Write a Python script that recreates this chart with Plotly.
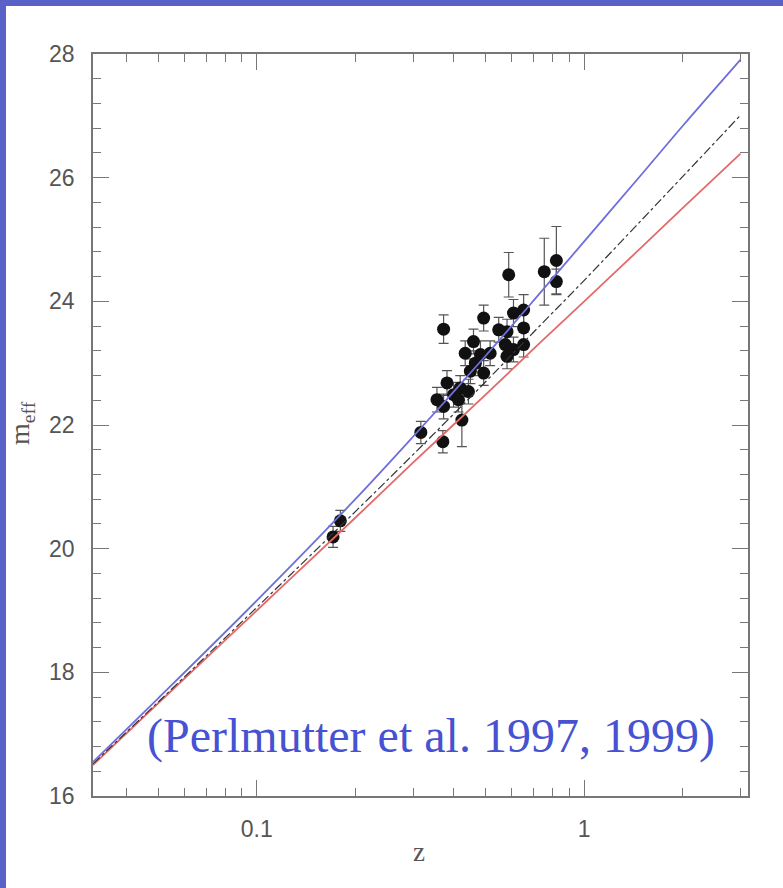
import plotly.graph_objects as go

# Supernova magnitudes vs redshift
z_sn = [0.171, 0.180, 0.317, 0.370, 0.372, 0.355, 0.381, 0.372, 0.399, 0.423,
        0.418, 0.413, 0.443, 0.433, 0.459, 0.482, 0.449, 0.465, 0.493, 0.493,
        0.516, 0.548, 0.581, 0.574, 0.581, 0.588, 0.608, 0.608, 0.653, 0.653,
        0.653, 0.755, 0.822, 0.822]
m_sn = [20.19, 20.45, 21.88, 21.73, 23.55, 22.41, 22.68, 22.30, 22.49, 22.08,
        22.60, 22.41, 22.54, 23.16, 23.35, 23.14, 22.87, 23.00, 22.84, 23.73,
        23.16, 23.54, 23.51, 23.30, 23.11, 24.43, 23.81, 23.22, 23.86, 23.57,
        23.30, 24.48, 24.66, 24.32]
m_err = [0.17, 0.17, 0.18, 0.18, 0.23, 0.20, 0.20, 0.20, 0.20, 0.43,
         0.20, 0.20, 0.20, 0.20, 0.20, 0.22, 0.20, 0.20, 0.20, 0.21,
         0.20, 0.20, 0.20, 0.20, 0.20, 0.36, 0.22, 0.20, 0.25, 0.25,
         0.20, 0.54, 0.55, 0.20]

# Model curves
z_model = [0.0316, 0.05, 0.1, 0.2, 0.3, 0.5, 0.7, 1.0, 1.5, 2.0, 3.0]
m_blue = [16.55, 17.58, 19.16, 20.80, 21.81, 23.12, 24.01, 24.97, 26.06, 26.84, 27.91]
m_dash = [16.52, 17.52, 19.05, 20.60, 21.52, 22.70, 23.50, 24.34, 25.32, 26.02, 27.01]
m_red = [16.50, 17.50, 19.00, 20.50, 21.39, 22.49, 23.23, 24.00, 24.88, 25.51, 26.39]

x_ticks = [0.1, 1]
x_ticktext = ["0.1", "1"]
x_minor = [0.04, 0.05, 0.06, 0.07, 0.08, 0.09,
           0.2, 0.3, 0.4, 0.5, 0.6, 0.7, 0.8, 0.9, 2, 3]
y_ticks = [16, 18, 20, 22, 24, 26, 28]

W, H = 783, 888
L, R, T, B = 93, 35, 54, 92
pw, ph = W - L - R, H - T - B


def px_x(p):
    return (p - L) / pw


def px_y(p):
    return (H - B - p) / ph


fig = go.Figure()

fig.add_trace(go.Scatter(
    x=z_sn, y=m_sn, mode="markers",
    marker=dict(color="#111111", size=13, line=dict(width=0)),
    error_y=dict(type="data", array=m_err, color="#555555", thickness=1.2, width=5),
    showlegend=False, hoverinfo="skip"))

fig.add_trace(go.Scatter(
    x=z_model, y=m_red, mode="lines", line=dict(color="#e46a6a", width=1.8, shape="spline"),
    showlegend=False))
fig.add_trace(go.Scatter(
    x=z_model, y=m_dash, mode="lines",
    line=dict(color="#333333", width=1.2, dash="dashdot", shape="spline"),
    showlegend=False))
fig.add_trace(go.Scatter(
    x=z_model, y=m_blue, mode="lines", line=dict(color="#6f6fdc", width=1.8, shape="spline"),
    showlegend=False))

axis_common = dict(
    showline=True, linecolor="#777777", linewidth=1.5, mirror="allticks",
    ticks="inside", tickcolor="#777777", tickwidth=1.3,
    showgrid=False, zeroline=False,
    tickfont=dict(family="Liberation Sans, Arial, sans-serif", size=23, color="#555555"),
)

fig.update_xaxes(
    type="log", range=[-1.5, 0.5], tickmode="array", tickvals=x_ticks, ticktext=x_ticktext,
    ticklen=16, ticklabelstandoff=12,
    minor=dict(tickmode="array", tickvals=x_minor, ticks="inside", ticklen=8,
               tickcolor="#777777", tickwidth=1.2, showgrid=False),
    **axis_common)
fig.update_yaxes(
    range=[16, 28], tickmode="array", tickvals=y_ticks, ticklen=16, ticklabelstandoff=12,
    minor=dict(dtick=0.4, tick0=16, ticks="inside", ticklen=8,
               tickcolor="#777777", tickwidth=1.2, showgrid=False),
    **axis_common)

serif = "Liberation Serif, Times New Roman, serif"
fig.add_annotation(x=px_x(419), y=px_y(852), xref="paper", yref="paper",
                   xanchor="center", yanchor="middle",
                   text="z", showarrow=False,
                   font=dict(family=serif, size=27, color="#555555"))
fig.add_annotation(x=px_x(22), y=px_y(423), xref="paper", yref="paper",
                   xanchor="center", yanchor="middle",
                   text="m<sub>eff</sub>", textangle=-90, showarrow=False,
                   font=dict(family=serif, size=28, color="#555555"))
fig.add_annotation(x=px_x(145), y=px_y(736), xref="paper", yref="paper",
                   xanchor="left", yanchor="middle",
                   text="(Perlmutter et al. 1997, 1999)", showarrow=False,
                   font=dict(family=serif, size=48, color="#4652d2"))

# slide frame strips along the left and top edges
frame = "#5a62c8"
fig.add_shape(type="rect", xref="paper", yref="paper",
              x0=px_x(0), x1=px_x(6), y0=px_y(H), y1=px_y(0),
              fillcolor=frame, line=dict(width=0), layer="below")
fig.add_shape(type="rect", xref="paper", yref="paper",
              x0=px_x(0), x1=px_x(W), y0=px_y(6), y1=px_y(0),
              fillcolor=frame, line=dict(width=0), layer="below")

fig.update_layout(
    width=W, height=H, autosize=False,
    margin=dict(l=L, r=R, t=T, b=B, pad=0),
    paper_bgcolor="white", plot_bgcolor="white",
    showlegend=False,
)

fig.write_html("out.html", include_plotlyjs=True, full_html=True,
               config={"displayModeBar": False})
